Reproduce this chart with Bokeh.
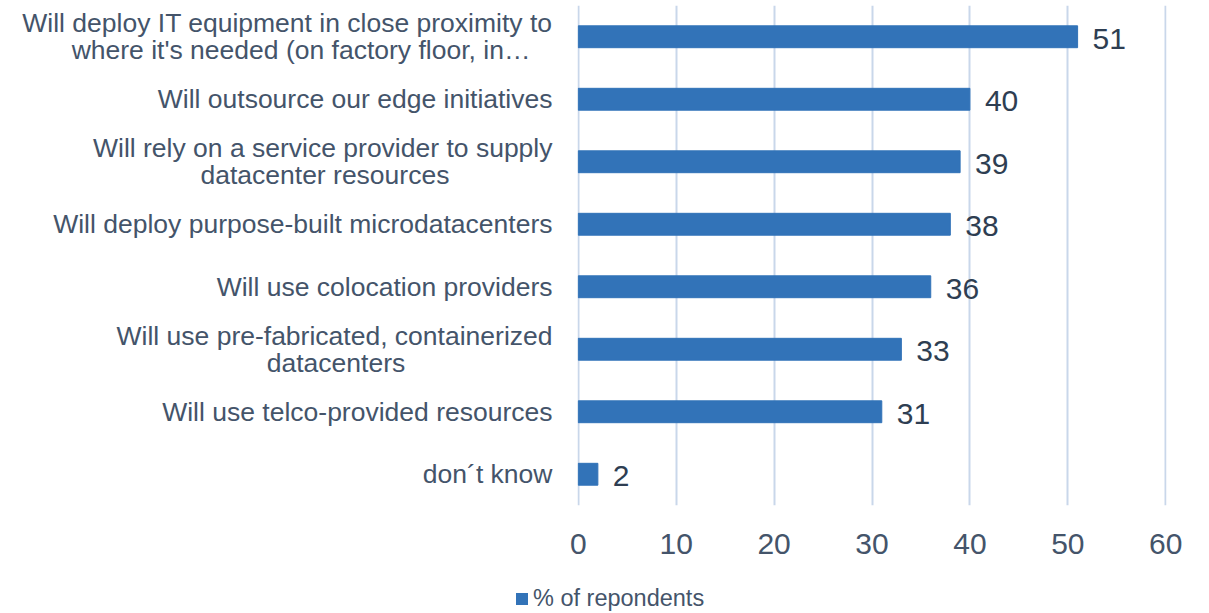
from bokeh.plotting import figure
from bokeh.layouts import column
from bokeh.models import ColumnDataSource, FactorRange, Div
from bokeh.embed import file_html
from bokeh.resources import INLINE
from bokeh.core.properties import value

categories = [
    "Will deploy IT equipment in close proximity to\nwhere it's needed (on factory floor, in\u2026",
    "Will outsource our edge initiatives",
    "Will rely on a service provider to supply\ndatacenter resources",
    "Will deploy purpose-built microdatacenters",
    "Will use colocation providers",
    "Will use pre-fabricated, containerized\ndatacenters",
    "Will use telco-provided resources",
    "don\u00b4t know",
]
values = [51, 40, 39, 38, 36, 33, 31, 2]
series_name = "% of repondents"
x_ticks = [0, 10, 20, 30, 40, 50, 60]

FONT = "Liberation Sans"
BAR = "#3273b8"
TXT = "#44546a"
VAL = "#2e3e52"

# second lines of wrapped labels are centred under the first line (pad with no-break spaces,
# closed by a zero-width space so the padding is not trimmed)
second_line_pad = {0: 3, 2: 14, 5: 20}
shown = []
for i, c in enumerate(categories):
    if i in second_line_pad:
        a, b = c.split("\n")
        c = a + "\n" + b + "\u00a0" * second_line_pad[i] + "\u200b"
    shown.append(c)

src = ColumnDataSource(dict(cat=shown, val=values, lab=[str(v) for v in values]))

p = figure(width=1209, height=583, output_backend="svg", toolbar_location=None,
           y_range=FactorRange(*reversed(shown), range_padding=0),
           x_range=(-0.08, 60.08),
           min_border_left=577, min_border_right=43, min_border_top=5, min_border_bottom=78)
p.outline_line_color = None
p.background_fill_color = "white"

p.hbar(y="cat", right="val", left=0, height=0.35, source=src, color=BAR)
p.text(x="val", y="cat", text="lab", source=src, x_offset=15, y_offset=2,
       text_font=value(FONT), text_font_size="30px", text_color=VAL,
       text_baseline="middle", text_align="left")

p.xaxis.ticker = x_ticks
p.xaxis.axis_line_color = None
p.xaxis.major_tick_line_color = None
p.xaxis.minor_tick_line_color = None
p.xaxis.major_label_text_font = FONT
p.xaxis.major_label_text_font_size = "30px"
p.xaxis.major_label_text_color = TXT
p.xaxis.major_label_standoff = 22

p.yaxis.axis_line_color = None
p.yaxis.major_tick_line_color = None
p.yaxis.minor_tick_line_color = None
p.yaxis.major_label_text_font = FONT
p.yaxis.major_label_text_font_size = "26.5px"
p.yaxis.major_label_text_color = TXT
p.yaxis.major_label_standoff = 19
p.yaxis.major_label_text_line_height = 0.9

p.ygrid.grid_line_color = None
p.xgrid.ticker = x_ticks
p.xgrid.grid_line_color = "#c9d7ea"
p.xgrid.grid_line_width = 2

legend_html = (
    f'<div style="position:relative;width:1209px;height:30px;font-family:\'{FONT}\';'
    f'font-size:23.5px;color:{TXT};white-space:nowrap;">'
    f'<span style="position:absolute;left:516px;top:10px;width:12px;height:12px;'
    f'background:{BAR};"></span>'
    f'<span style="position:absolute;left:533px;top:0px;line-height:30px;">{series_name}</span>'
    f'</div>'
)
legend_div = Div(text=legend_html, width=1209, height=30, margin=0)

open("out.html", "w").write(file_html(column(p, legend_div, spacing=0), INLINE))
